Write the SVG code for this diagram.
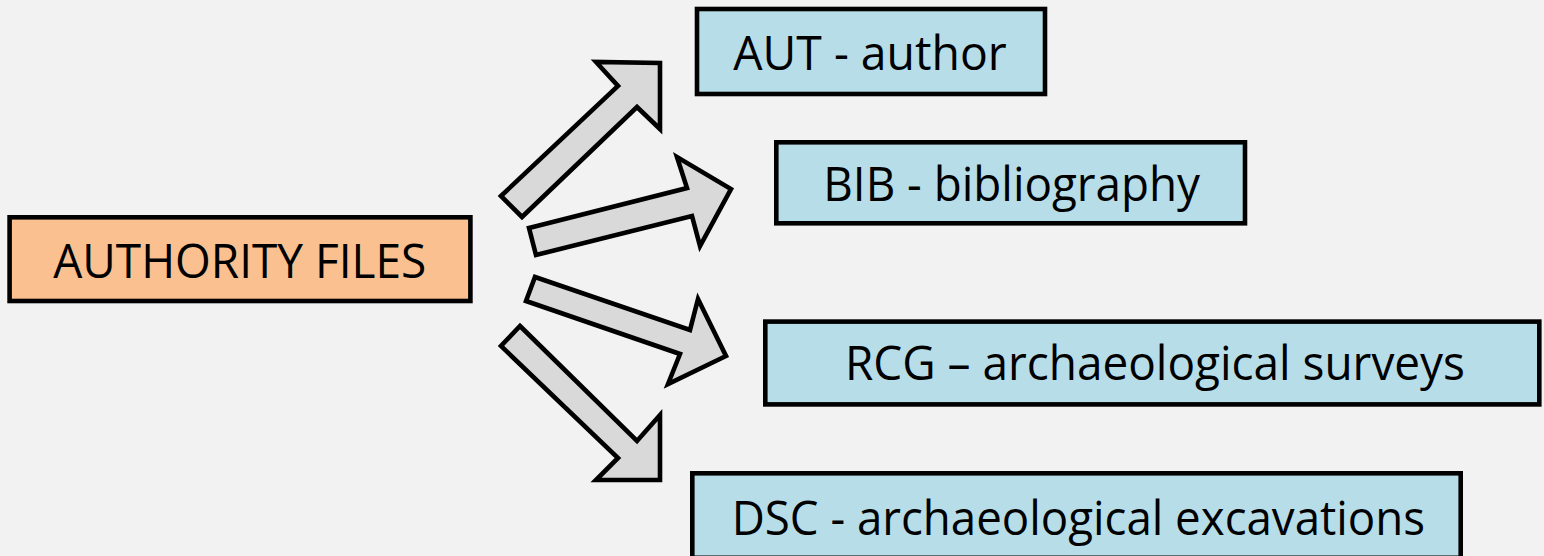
<svg xmlns="http://www.w3.org/2000/svg" width="1544" height="556" viewBox="0 0 1544 556">
  <style>
    .box { stroke: #000; stroke-width: 4.6; stroke-linejoin: miter; }
    .blue { fill: #b7dee8; }
    .orange { fill: #fac090; }
    .arrow { fill: #d9d9d9; stroke: #000; stroke-width: 4.6; stroke-linejoin: miter; stroke-miterlimit: 10; }
    .lbl { font-family: "Open Sans", "Noto Sans", "DejaVu Sans", sans-serif; font-size: 48px; fill: #000; }
  </style>
  <rect x="0" y="0" width="1544" height="556" fill="#f2f2f2"/>

  <g id="connectors">
    <polygon class="arrow" points="501,196 618,86 596,62 660,63 660,129 637,107 522,217"/>
    <polygon class="arrow" points="529,228 687,188 677,157 731,189 700,246 692,216 536,255"/>
    <polygon class="arrow" points="535,277 690,330 698,299 726,356 668,384 680,354 526,301"/>
    <polygon class="arrow" points="520,326 637,441 660,415 660,480 596,480 618,458 501,346"/>
  </g>

  <g id="node-authority">
    <rect class="box orange" x="9.6" y="217.3" width="460.8" height="83.7"/>
    <text class="lbl" x="53.3" y="278" textLength="373" lengthAdjust="spacingAndGlyphs">AUTHORITY FILES</text>
  </g>

  <g id="node-aut">
    <rect class="box blue" x="697" y="9" width="348" height="85"/>
    <text class="lbl" x="733.3" y="70" textLength="273.4" lengthAdjust="spacingAndGlyphs">AUT - author</text>
  </g>

  <g id="node-bib">
    <rect class="box blue" x="776.3" y="142.3" width="468.7" height="81"/>
    <text class="lbl" x="823.3" y="201" textLength="376.7" lengthAdjust="spacingAndGlyphs">BIB - bibliography</text>
  </g>

  <g id="node-rcg">
    <rect class="box blue" x="765.3" y="321.6" width="774" height="82.8"/>
    <text class="lbl" x="845" y="380" textLength="620" lengthAdjust="spacingAndGlyphs">RCG – archaeological surveys</text>
  </g>

  <g id="node-dsc">
    <rect class="box blue" x="692.3" y="473.3" width="768.4" height="84.5"/>
    <text class="lbl" x="731.7" y="535" textLength="693.3" lengthAdjust="spacingAndGlyphs">DSC - archaeological excavations</text>
  </g>
</svg>
